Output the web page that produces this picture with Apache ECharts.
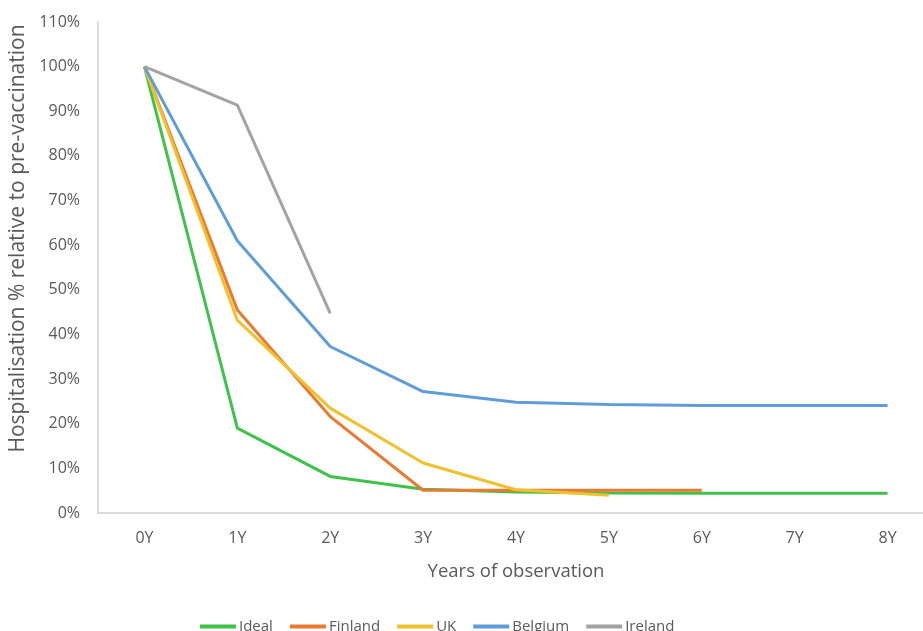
<!DOCTYPE html>
<html>
<head>
<meta charset="utf-8">
<script src="https://cdn.jsdelivr.net/npm/echarts@6/dist/echarts.min.js"></script>
<style>
  html, body { margin: 0; padding: 0; background: #fff; }
  #chart { width: 923px; height: 631px; }
</style>
</head>
<body>
<div id="chart"></div>
<script>
// Years since vaccine introduction
const years = ['0Y', '1Y', '2Y', '3Y', '4Y', '5Y', '6Y', '7Y', '8Y'];
// Hospitalisation as % of the pre-vaccination level
const ideal   = [100, 19.0, 8.2, 5.3, 4.7, 4.5, 4.4, 4.4, 4.4];
const finland = [100, 45.5, 21.6, 5.1, 5.1, 5.1, 5.1, null, null];
const uk      = [100, 43.2, 23.5, 11.2, 5.2, 4.0, null, null, null];
const belgium = [100, 61.0, 37.3, 27.2, 24.8, 24.3, 24.1, 24.1, 24.1];
const ireland = [100, 91.4, 44.7, null, null, null, null, null, null];
const yTicks = [0, 10, 20, 30, 40, 50, 60, 70, 80, 90, 100, 110];

const font = '"Open Sans", "Noto Sans", sans-serif';
const txt = '#595959';

function line(name, data, color) {
  return {
    name, type: 'line', data,
    symbol: 'none', smooth: false,
    lineStyle: { color, width: 3 },
    itemStyle: { color },
    connectNulls: false
  };
}

const chart = echarts.init(document.getElementById('chart'));
chart.setOption({
  animation: false,
  // the plot runs past the right edge of the canvas
  grid: { left: 98, width: 836, top: 22, bottom: 118, outerBoundsMode: 'none', containLabel: false },
  xAxis: {
    type: 'category', data: years, boundaryGap: true,
    name: 'Years of observation', nameLocation: 'middle', nameGap: 49,
    nameTextStyle: { fontFamily: font, fontSize: 18.5, color: txt },
    axisLine: { lineStyle: { color: '#d0d0d0', width: 1.5 } },
    axisTick: { show: false },
    axisLabel: { fontFamily: font, fontSize: 16, color: txt, margin: 17 }
  },
  yAxis: {
    type: 'value', min: yTicks[0], max: yTicks[yTicks.length - 1], interval: 10,
    name: 'Hospitalisation % relative to pre-vaccination', nameLocation: 'middle', nameGap: 67,
    nameTextStyle: { fontFamily: font, fontSize: 21, color: txt, padding: [0, 0, 0, 58] },
    axisLine: { show: true, lineStyle: { color: '#d0d0d0', width: 1.5 } },
    axisTick: { show: false },
    splitLine: { show: false },
    axisLabel: { fontFamily: font, fontSize: 16, color: txt, margin: 18, formatter: v => v + '%' }
  },
  legend: {
    top: 614, left: 195, itemGap: 17,
    icon: 'rect', itemWidth: 36, itemHeight: 4,
    textStyle: { fontFamily: font, fontSize: 15, color: txt, padding: [0, 0, 0, -2] },
    data: ['Ideal', 'Finland', 'UK', 'Belgium', 'Ireland']
  },
  series: [
    line('Ideal', ideal, '#3EC24A'),
    line('Finland', finland, '#E97A30'),
    line('UK', uk, '#F0C12C'),
    line('Belgium', belgium, '#5F9DD6'),
    line('Ireland', ireland, '#A3A3A3')
  ]
});
</script>
</body>
</html>
